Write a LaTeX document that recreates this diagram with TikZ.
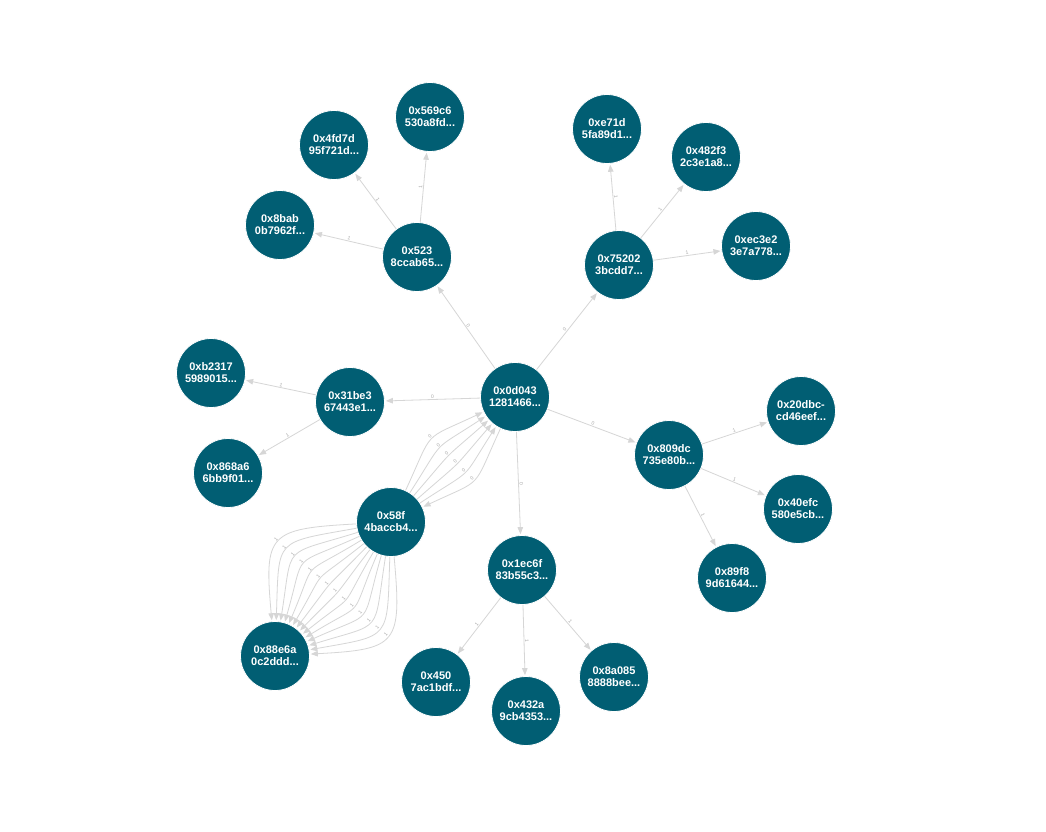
\documentclass[tikz,border=0pt]{standalone}
\usepackage{fontspec}
\setmainfont{Liberation Sans}
\usetikzlibrary{arrows.meta}
\definecolor{nodeblue}{HTML}{015E73}
\definecolor{edgegray}{HTML}{D6D6D6}
\definecolor{lblgray}{HTML}{A8A8A8}
\tikzset{
  gnode/.style={circle, fill=nodeblue, draw=white, line width=0.8pt, minimum size=69pt, inner sep=0pt,
    text=white, align=center, font=\fontsize{11}{12}\selectfont\bfseries},
  edge/.style={draw=edgegray, line width=0.8pt, -{Triangle[length=7pt,width=5.5pt]}, shorten >=1pt},
  redge/.style={draw=edgegray, line width=0.8pt, {Triangle[length=7pt,width=5.5pt]}-, shorten <=1pt},
  lbl/.style={font=\fontsize{5}{5}\selectfont, text=lblgray, sloped, above=0.3pt, inner sep=0.5pt}
}
\begin{document}
\begin{tikzpicture}[x=1pt,y=-1pt]
\useasboundingbox (0,0) rectangle (1046,831);
\fill[white] (0,0) rectangle (1046,831);
% nodes
\node[gnode] (c0)   at (515,397) {0x0d043\\1281466...};
\node[gnode] (n523) at (417,257) {0x523\\8ccab65...};
\node[gnode] (n569) at (430,117) {0x569c6\\530a8fd...};
\node[gnode] (n4fd) at (334,145) {0x4fd7d\\95f721d...};
\node[gnode] (n8ba) at (280,225) {0x8bab\\0b7962f...};
\node[gnode] (n752) at (619,265) {0x75202\\3bcdd7...};
\node[gnode] (ne71) at (607,129) {0xe71d\\5fa89d1...};
\node[gnode] (n482) at (706,157) {0x482f3\\2c3e1a8...};
\node[gnode] (nec3) at (756,246) {0xec3e2\\3e7a778...};
\node[gnode] (n31b) at (350,402) {0x31be3\\67443e1...};
\node[gnode] (nb23) at (211,373) {0xb2317\\5989015...};
\node[gnode] (n868) at (228,473) {0x868a6\\6bb9f01...};
\node[gnode] (n58f) at (391,522) {0x58f\\4baccb4...};
\node[gnode] (n88e) at (275,656) {0x88e6a\\0c2ddd...};
\node[gnode] (n809) at (669,455) {0x809dc\\735e80b...};
\node[gnode] (n20d) at (801,411) {0x20dbc-\\cd46eef...};
\node[gnode] (n40e) at (798,509) {0x40efc\\580e5cb...};
\node[gnode] (n89f) at (732,578) {0x89f8\\9d61644...};
\node[gnode] (n1ec) at (522,570) {0x1ec6f\\83b55c3...};
\node[gnode] (n450) at (436,682) {0x450\\7ac1bdf...};
\node[gnode] (n432) at (526,711) {0x432a\\9cb4353...};
\node[gnode] (n8a0) at (614,677) {0x8a085\\8888bee...};
% edges from centre
\draw[edge] (c0) -- node[lbl]{0} (n523);
\draw[edge] (c0) -- node[lbl]{0} (n752);
\draw[edge] (c0) -- node[lbl]{0} (n31b);
\draw[edge] (c0) -- node[lbl]{0} (n809);
\draw[edge] (c0) -- node[lbl]{0} (n1ec);
% children
\draw[edge] (n523) -- node[lbl]{1} (n569);
\draw[edge] (n523) -- node[lbl]{1} (n4fd);
\draw[edge] (n523) -- node[lbl]{1} (n8ba);
\draw[edge] (n752) -- node[lbl]{1} (ne71);
\draw[edge] (n752) -- node[lbl]{1} (n482);
\draw[edge] (n752) -- node[lbl]{1} (nec3);
\draw[edge] (n31b) -- node[lbl]{1} (nb23);
\draw[edge] (n31b) -- node[lbl]{1} (n868);
\draw[edge] (n809) -- node[lbl]{1} (n20d);
\draw[edge] (n809) -- node[lbl]{1} (n40e);
\draw[edge] (n809) -- node[lbl]{1} (n89f);
\draw[edge] (n1ec) -- node[lbl]{1} (n450);
\draw[edge] (n1ec) -- node[lbl]{1} (n432);
\draw[edge] (n1ec) -- node[lbl]{1} (n8a0);
% bundle 58f <-> centre
\foreach \a in {20,12,4,-4,-12} {
  \draw[edge] (n58f) to[bend left=\a, looseness=1.6] node[lbl]{0} (c0);
}
\draw[redge] (n58f) to[bend left=-20, looseness=1.6] node[lbl]{0} (c0);
% bundle 58f -> 88e6a
\foreach \i in {0,...,13} {
  \pgfmathsetmacro{\a}{-46+\i*92/13}
  \draw[edge] (n58f) to[bend left=\a, looseness=1.75] node[lbl]{1} (n88e);
}
\end{tikzpicture}
\end{document}
